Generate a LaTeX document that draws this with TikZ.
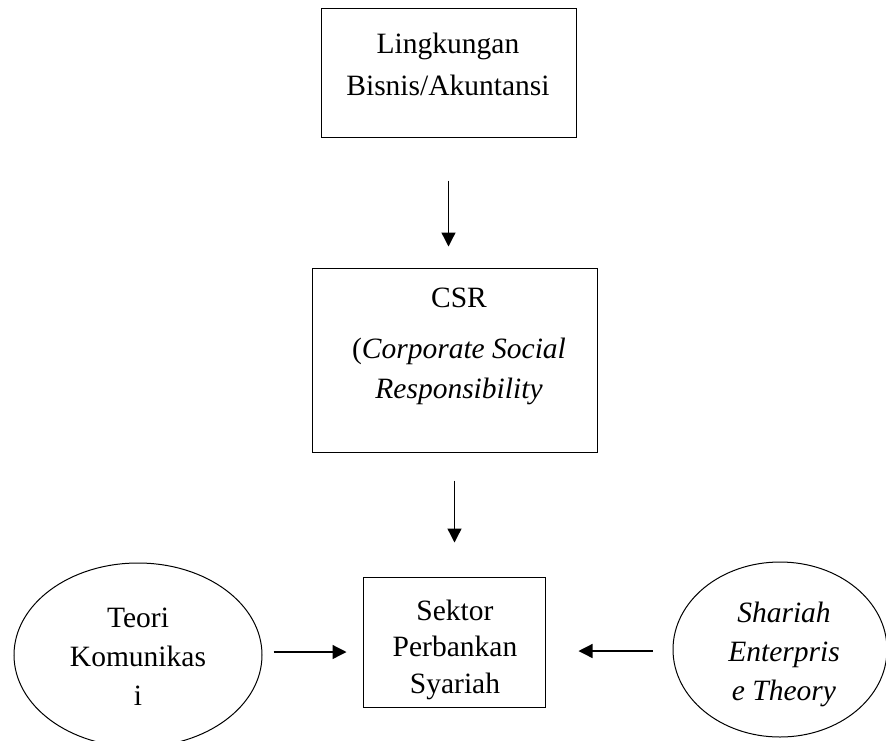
\documentclass[tikz,border=0pt]{standalone}
\usepackage{fontspec}
\setmainfont{Liberation Serif}
\usetikzlibrary{calc, arrows.meta, shapes.geometric}

\begin{document}
\begin{tikzpicture}[x=1pt, y=-1pt,
  box/.style={draw, line width=1pt, inner sep=0pt},
  oval/.style={draw, ellipse, line width=1pt, inner sep=0pt},
  txt/.style={align=center, inner sep=0pt, anchor=base},
  arr/.style={line width=1.3pt, -{Triangle[length=14pt, width=14pt]}}]
  \useasboundingbox (0,0) rectangle (886,740);
  % frames
  \node[box, minimum width=255pt, minimum height=129pt] (env) at (448.5,72.5) {};
  \node[box, minimum width=285pt, minimum height=184pt] (csr) at (454.5,360) {};
  \node[box, minimum width=182pt, minimum height=130pt] (sektor) at (454,642) {};
  \node[oval, minimum width=248pt, minimum height=184pt] (teori) at (138,655) {};
  \node[oval, minimum width=214pt, minimum height=175pt] (sei) at (780,649.5) {};
  % texts, placed at the baseline of the last line
  \node[txt, font=\fontsize{29.5}{42}\selectfont] (envtxt) at (448,95)
    {Lingkungan\\Bisnis/Akuntansi};
  \node[txt, font=\fontsize{29.5}{40}\selectfont] (csrtxt) at (459,398)
    {CSR\\[11pt](\textit{Corporate Social}\\\textit{Responsibility}};
  \node[txt, font=\fontsize{29.5}{36.5}\selectfont] (sektortxt) at (455,693)
    {Sektor\\Perbankan\\Syariah};
  \node[txt, font=\fontsize{29.5}{39}\selectfont] (teoritxt) at (138,705)
    {Teori\\Komunikas\\i};
  \node[txt, font=\fontsize{29.5}{39}\selectfont\itshape] (seitxt) at (784,700)
    {Shariah\\Enterpris\\e Theory};
  % arrows
  \draw[arr, shorten <=43pt, shorten >=21pt] (env.south) -- (env.south |- csr.north);
  \draw[arr, shorten <=28pt, shorten >=34pt] (csr.south) -- (csr.south |- sektor.north);
  \draw[arr, shorten <=11pt, shorten >=16pt] ([yshift=3pt]teori.east) -- ([yshift=3pt]teori.east -| sektor.west);
  \draw[arr, shorten <=20pt, shorten >=33pt] ([yshift=-1.5pt]sei.west) -- ([yshift=-1.5pt]sei.west -| sektor.east);
\end{tikzpicture}
\end{document}
